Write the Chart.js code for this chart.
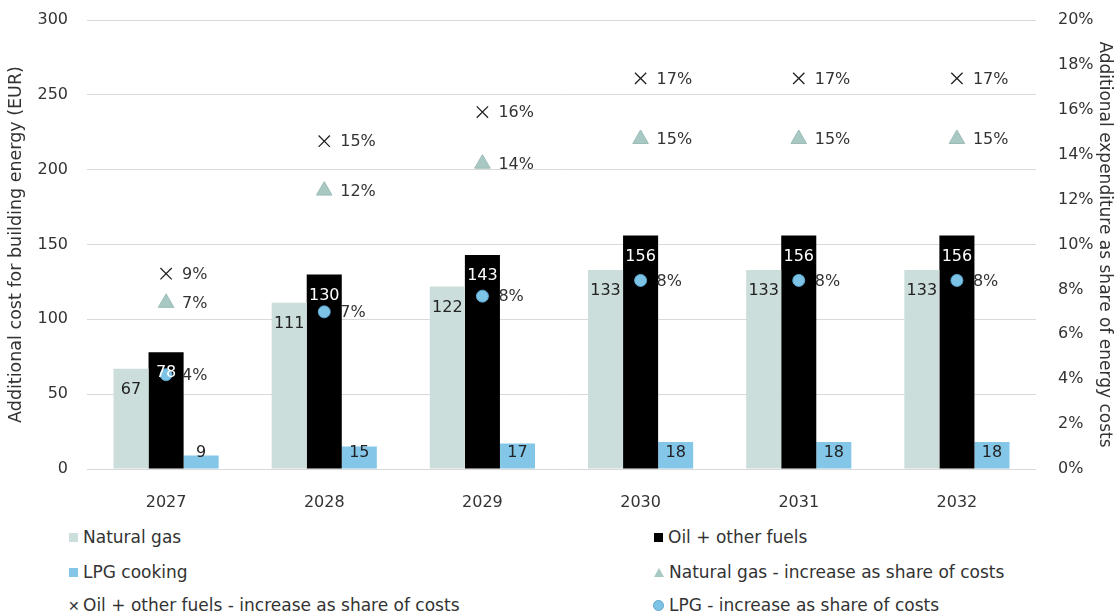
<!DOCTYPE html>
<html>
<head>
<meta charset="utf-8">
<script src="https://cdn.jsdelivr.net/npm/chart.js@4"></script>
<style>
  body { margin: 0; background: #fff; font-family: "DejaVu Sans", sans-serif; }
  #wrap { position: relative; width: 1117px; height: 613px; }
  #chartBox { position: absolute; left: 0; top: 0; width: 1117px; height: 520px; }
  .leg { position: absolute; font-size: 17px; color: #333; white-space: nowrap; line-height: 20px; }
  .leg i { display: inline-block; vertical-align: middle; margin-right: 5px; position: relative; top: -1px; }
  .sq { width: 9px; height: 9px; }
  .tri { width: 0; height: 0; border-left: 5px solid transparent; border-right: 5px solid transparent; border-bottom: 9px solid #A8C8C3; }
  .dot { width: 9px; height: 9px; border-radius: 50%; background: #7DC3E6; border: 1px solid #5BA5CC; }
  .cross { font-style: normal; font-size: 14px; width: 10px; top: 0 !important; }
</style>
</head>
<body>
<div id="wrap">
  <div id="chartBox"><canvas id="myChart"></canvas></div>
  <div id="legend"></div>
</div>
<script>
// categories and values
const years = ['2027', '2028', '2029', '2030', '2031', '2032'];
const natGas = [67, 111, 122, 133, 133, 133];
const oilFuels = [78, 130, 143, 156, 156, 156];
const lpgCooking = [9, 15, 17, 18, 18, 18];
// increase as share of costs, in %
const gasShare = [7.4, 12.4, 13.6, 14.7, 14.7, 14.7];
const oilShare = [8.7, 14.6, 15.9, 17.4, 17.4, 17.4];
const lpgShare = [4.2, 7.0, 7.7, 8.4, 8.4, 8.4];
const costTicks = [0, 50, 100, 150, 200, 250, 300];

const colGas = '#CCDEDC';
const colOil = '#000000';
const colLpg = '#83C6E8';

// draws the value labels next to the bars and markers
const valueLabels = {
  id: 'valueLabels',
  afterDatasetsDraw(chart) {
    const c = chart.ctx;
    const base = chart.scales.y.getPixelForValue(0);
    c.save();
    c.font = '16px "DejaVu Sans"';
    c.textBaseline = 'middle';
    chart.data.datasets.forEach((ds, i) => {
      const meta = chart.getDatasetMeta(i);
      meta.data.forEach((el, j) => {
        const v = ds.data[j];
        if (ds.type === 'bar') {
          c.textAlign = 'center';
          c.fillStyle = ds.labelColor;
          let y = el.y + 21;
          if (ds.label === 'LPG cooking') y = base - 16;
          c.fillText(v, el.x, y);
        } else {
          c.textAlign = 'left';
          c.fillStyle = '#333';
          c.fillText(Math.round(v) + '%', el.x + 16, el.y + 1);
        }
      });
    });
    c.restore();
  }
};

// vertical axes: fixed width, and no extra room above the top tick
const fitVertical = w => s => { s.width = w; s.paddingTop = 20; s.paddingBottom = 0; };

let ctx = document.getElementById('myChart').getContext('2d');
let myChart = new Chart(ctx, {
  data: {
    labels: years,
    datasets: [
      { type: 'bar', label: 'Natural gas', data: natGas, backgroundColor: colGas, labelColor: '#222', yAxisID: 'y', order: 2 },
      { type: 'bar', label: 'Oil + other fuels', data: oilFuels, backgroundColor: colOil, labelColor: '#fff', yAxisID: 'y', order: 2 },
      { type: 'bar', label: 'LPG cooking', data: lpgCooking, backgroundColor: colLpg, labelColor: '#222', yAxisID: 'y', order: 2 },
      { type: 'line', label: 'Natural gas - increase as share of costs', data: gasShare, showLine: false, yAxisID: 'y2',
        pointStyle: 'triangle', pointRadius: 9, backgroundColor: '#A8C8C3', borderColor: '#9DBDB8', borderWidth: 1, order: 1 },
      { type: 'line', label: 'Oil + other fuels - increase as share of costs', data: oilShare, showLine: false, yAxisID: 'y2',
        pointStyle: 'crossRot', pointRadius: 8, borderColor: '#222', borderWidth: 1.3, order: 1 },
      { type: 'line', label: 'LPG - increase as share of costs', data: lpgShare, showLine: false, yAxisID: 'y2',
        pointStyle: 'circle', pointRadius: 6, backgroundColor: '#7DC3E6', borderColor: '#5BA5CC', borderWidth: 1, order: 1 }
    ]
  },
  options: {
    responsive: true,
    maintainAspectRatio: false,
    animation: false,
    events: [],
    layout: { padding: 0 },
    datasets: { bar: { barPercentage: 1, categoryPercentage: 0.665 } },
    plugins: { legend: { display: false }, tooltip: { enabled: false } },
    scales: {
      x: {
        grid: { display: false },
        border: { display: false },
        ticks: { color: '#333', font: { family: 'DejaVu Sans', size: 16 }, padding: 16 },
        afterFit: s => { s.height = 51; }
      },
      y: {
        position: 'left',
        min: 0, max: 300,
        afterBuildTicks: s => { s.ticks = costTicks.map(v => ({ value: v })); },
        grid: { color: '#D9D9D9', drawTicks: false },
        border: { display: false },
        ticks: { color: '#333', font: { family: 'DejaVu Sans', size: 16 }, padding: 19 },
        title: { display: true, text: 'Additional cost for building energy (EUR)', color: '#333',
                 font: { family: 'DejaVu Sans', size: 17.5 }, padding: { top: 6, bottom: 4 } },
        afterFit: fitVertical(87)
      },
      y2: {
        position: 'right',
        min: 0, max: 20,
        grid: { display: false, drawTicks: false },
        border: { display: false },
        ticks: { stepSize: 2, color: '#333', font: { family: 'DejaVu Sans', size: 16 }, padding: 22,
                 callback: v => v + '%' },
        title: { display: true, text: 'Additional expenditure as share of energy costs', color: '#333',
                 font: { family: 'DejaVu Sans', size: 17 }, padding: { top: 2, bottom: 4 } },
        afterFit: fitVertical(81)
      }
    }
  },
  plugins: [valueLabels]
});

// two-column legend under the chart
const legendItems = [
  { text: 'Natural gas', icon: '<i class="sq" style="background:' + colGas + '"></i>', left: 69, top: 527 },
  { text: 'Oil + other fuels', icon: '<i class="sq" style="background:' + colOil + '"></i>', left: 654, top: 527 },
  { text: 'LPG cooking', icon: '<i class="sq" style="background:' + colLpg + '"></i>', left: 69, top: 562 },
  { text: 'Natural gas - increase as share of costs', icon: '<i class="tri"></i>', left: 654, top: 562 },
  { text: 'Oil + other fuels - increase as share of costs', icon: '<i class="cross">✕</i>', left: 68, top: 595 },
  { text: 'LPG - increase as share of costs', icon: '<i class="dot"></i>', left: 653, top: 595 }
];
const legendBox = document.getElementById('legend');
legendItems.forEach(item => {
  const d = document.createElement('div');
  d.className = 'leg';
  d.style.left = item.left + 'px';
  d.style.top = item.top + 'px';
  d.innerHTML = item.icon + item.text;
  legendBox.appendChild(d);
});
</script>
</body>
</html>
